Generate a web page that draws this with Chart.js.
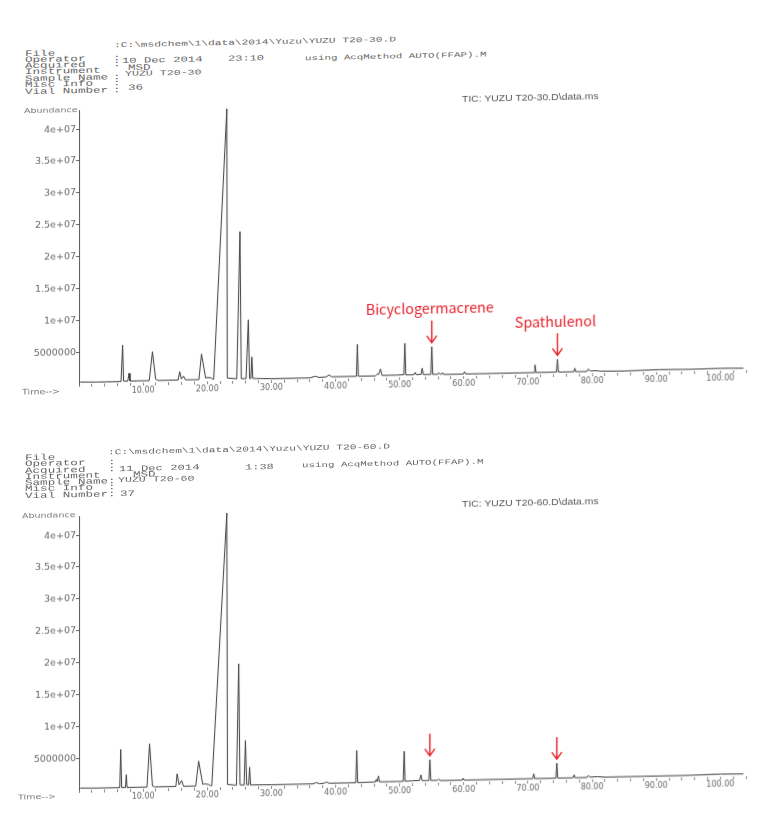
<!DOCTYPE html>
<html>
<head>
<meta charset="utf-8">
<script src="https://cdn.jsdelivr.net/npm/chart.js@4.4.1/dist/chart.umd.min.js"></script>
<style>
  body { margin: 0; background: #fff; width: 762px; height: 830px; overflow: hidden; position: relative; }
  .panel { position: absolute; left: 0; top: 0; width: 762px; height: 830px; transform: skewY(-1.2deg); transform-origin: 80px 0; }
  .hd { position: absolute; font: 12.6px "Liberation Mono", monospace; line-height: 12px; color: #666; white-space: pre; transform: scaleY(0.65); transform-origin: left center; }
  .lbl { position: absolute; font: 9.5px "DejaVu Sans", sans-serif; line-height: 12px; color: #777; white-space: pre; transform: scaleY(0.8); transform-origin: left center; }
  .tic { position: absolute; font: 10.4px "Liberation Sans", sans-serif; line-height: 12px; color: #555; white-space: pre; transform: scaleY(0.8); transform-origin: left center; }
  canvas { position: absolute; left: 0; }
</style>
</head>
<body>
<div class="panel" id="panelTop"><canvas id="chartTop" width="762" height="302" style="top:100px"></canvas></div>
<div class="panel" id="panelBottom"><canvas id="chartBottom" width="762" height="302" style="top:506px"></canvas></div>
<script>
// retention time (min) and abundance of the trace vertices, YUZU T20-30
const topTime = [
  0.2, 3.0, 6.55, 6.8, 6.95, 7.6, 7.8, 7.95,
  10.95, 11.45, 11.95, 12.3,
  15.45, 15.7, 15.95, 16.3, 16.6,
  18.7, 19.1, 19.75, 19.95, 20.6, 20.8,
  21.0, 23.05, 23.12,
  24.6, 25.1, 25.3, 26.05, 26.4, 26.6, 26.8, 26.95, 27.1,
  30.0, 36.0, 36.9, 37.3, 38.5, 39.0, 39.4,
  43.25, 43.4, 43.55, 46.2, 46.5, 46.7, 47.0, 47.25,
  49.5, 50.65, 50.8, 50.95, 52.2, 52.4, 52.6,
  53.35, 53.5, 53.7, 54.85, 55.0, 55.15,
  55.95, 56.1, 56.3, 56.55, 56.7, 56.85,
  59.95, 60.1, 60.3,
  70.95, 71.1, 71.25, 74.45, 74.6, 74.75,
  77.15, 77.3, 77.45, 79.2, 79.4, 79.7, 80.6, 81.2,
  85.0, 90.5, 95.0, 100.0, 103.6
];
const topAbund = [
  0.3e6, 0.25e6, 0.25e6, 5.97e6, 0.3e6, 0.3e6, 1.52e6, 0.3e6,
  0.3e6, 4.83e6, 0.5e6, 0.3e6,
  0.3e6, 1.6e6, 0.45e6, 0.9e6, 0.3e6,
  0.3e6, 4.31e6, 0.5e6, 0.6e6, 0.55e6, 0.3e6,
  0.3e6, 4.27e7, 0.45e6,
  0.3e6, 2.34e7, 0.3e6, 0.3e6, 9.5e6, 0.3e6, 0.3e6, 3.67e6, 0.3e6,
  0.2e6, 0.2e6, 0.45e6, 0.25e6, 0.3e6, 0.6e6, 0.3e6,
  0.3e6, 5.3e6, 0.3e6, 0.3e6, 0.6e6, 0.5e6, 1.36e6, 0.35e6,
  0.35e6, 0.4e6, 5.3e6, 0.35e6, 0.35e6, 0.7e6, 0.35e6,
  0.4e6, 1.35e6, 0.35e6, 0.35e6, 4.7e6, 0.35e6,
  0.35e6, 0.6e6, 0.35e6, 0.35e6, 0.6e6, 0.3e6,
  0.3e6, 0.67e6, 0.3e6,
  0.3e6, 1.49e6, 0.3e6, 0.3e6, 2.3e6, 0.3e6,
  0.3e6, 0.85e6, 0.3e6, 0.3e6, 0.69e6, 0.35e6, 0.4e6, 0.3e6,
  0.25e6, 0.35e6, 0.3e6, 0.35e6, 0.3e6
];

// YUZU T20-60
const bottomTime = [
  0.2, 3.0, 6.35, 6.5, 6.65, 7.25, 7.37, 7.5,
  10.6, 11.0, 11.45, 11.8,
  15.1, 15.3, 15.6, 16.0, 16.3,
  18.2, 18.65, 19.3, 19.6, 20.2, 20.5,
  20.7, 23.05, 23.15,
  24.55, 24.9, 25.1, 25.75, 25.95, 26.15, 26.45, 26.6, 26.75,
  30.0, 36.5, 37.0, 37.5, 38.3, 38.6, 39.0,
  43.15, 43.3, 43.45, 46.2, 46.35, 46.5, 46.7, 46.85,
  49.5, 50.55, 50.7, 50.85, 52.0, 53.1, 53.3, 53.5,
  54.55, 54.7, 54.85, 55.9, 56.1, 56.3,
  59.75, 59.9, 60.05,
  70.75, 70.9, 71.05, 74.35, 74.5, 74.65,
  77.05, 77.2, 77.35, 79.2, 79.4, 79.7, 80.8, 82.0,
  88.0, 95.0, 100.0, 103.6
];
const bottomAbund = [
  0.3e6, 0.25e6, 0.25e6, 6.24e6, 0.25e6, 0.25e6, 2.25e6, 0.25e6,
  0.25e6, 7.04e6, 0.4e6, 0.25e6,
  0.25e6, 2.23e6, 0.5e6, 1.16e6, 0.25e6,
  0.25e6, 4.15e6, 0.5e6, 0.55e6, 0.45e6, 0.25e6,
  0.25e6, 4.3e7, 0.4e6,
  0.25e6, 1.93e7, 0.3e6, 0.25e6, 7.25e6, 0.3e6, 0.25e6, 3.03e6, 0.25e6,
  0.2e6, 0.2e6, 0.4e6, 0.2e6, 0.3e6, 0.45e6, 0.25e6,
  0.25e6, 5.3e6, 0.25e6, 0.3e6, 0.7e6, 0.35e6, 1.25e6, 0.3e6,
  0.3e6, 0.3e6, 5.03e6, 0.3e6, 0.35e6, 0.4e6, 1.27e6, 0.35e6,
  0.35e6, 3.6e6, 0.35e6, 0.35e6, 0.55e6, 0.3e6,
  0.3e6, 0.6e6, 0.3e6,
  0.3e6, 1.07e6, 0.3e6, 0.3e6, 2.66e6, 0.3e6,
  0.3e6, 0.77e6, 0.3e6, 0.3e6, 0.61e6, 0.35e6, 0.4e6, 0.3e6,
  0.3e6, 0.3e6, 0.4e6, 0.35e6
];

// marked peaks (red arrows)
const topMarkNames = ["Bicyclogermacrene", "Spathulenol"];
const topMarkTimes = [55.0, 74.6];
const topMarkAbund = [4.7e6, 2.3e6];
const bottomMarkNames = ["", ""];
const bottomMarkTimes = [54.7, 74.5];
const bottomMarkAbund = [3.6e6, 2.66e6];

const yTickValues = [5e6, 1e7, 1.5e7, 2e7, 2.5e7, 3e7, 3.5e7, 4e7];
const yMax = 4.3e7;
const xTickStep = 2;
const xLabelEvery = 10;
const xMax = 104;

function addText(panel, cls, str, x, y, size) {
  const d = document.createElement("div");
  d.className = cls;
  d.textContent = str;
  d.style.left = x + "px";
  d.style.top = (y - 6) + "px";
  if (size) d.style.fontSize = size + "px";
  panel.appendChild(d);
}

const $top = document.getElementById("panelTop");
[
  [":C:\\msdchem\\1\\data\\2014\\Yuzu\\YUZU T20-30.D", 114, 45.5, 11.2],
  ["File", 25, 52.5], ["Operator", 25, 58.5], ["Acquired", 25, 64.5],
  ["Instrument", 25, 71], ["Sample Name", 25, 77.5], ["Misc Info", 25, 84],
  ["Vial Number", 25, 90.5],
  [":", 113, 58.5], [":", 113, 64.5], [":", 113, 77.5], [":", 113, 84], [":", 113, 90.5],
  ["10 Dec 2014", 122, 61.5, 12.2], ["23:10", 228, 62, 12], ["using AcqMethod AUTO(FFAP).M", 305, 62.5, 10.8],
  ["MSD", 128, 69], ["YUZU T20-30", 125, 75, 11.6], ["36", 128, 89]
].forEach(h => addText($top, "hd", h[0], h[1], h[2], h[3]));
addText($top, "tic", "TIC: YUZU T20-30.D\\data.ms", 462, 108);
addText($top, "lbl", "Abundance", 24, 110);
addText($top, "lbl", "Time-->", 22, 391);

const $bottom = document.getElementById("panelBottom");
[
  [":C:\\msdchem\\1\\data\\2014\\Yuzu\\YUZU T20-60.D", 108, 452.5, 11.2],
  ["File", 25, 457], ["Operator", 25, 463], ["Acquired", 25, 469.5],
  ["Instrument", 25, 476], ["Sample Name", 25, 482], ["Misc Info", 25, 488],
  ["Vial Number", 25, 494.5],
  [":", 108, 463], [":", 108, 469.5], [":", 108, 482], [":", 108, 488], [":", 108, 494.5],
  ["11 Dec 2014", 119, 470, 12.2], ["1:38", 245, 470.5, 12], ["using AcqMethod AUTO(FFAP).M", 302, 470, 10.8],
  ["MSD", 133, 476], ["YUZU T20-60", 118, 481, 11.6], ["37", 120, 494.5]
].forEach(h => addText($bottom, "hd", h[0], h[1], h[2], h[3]));
addText($bottom, "tic", "TIC: YUZU T20-60.D\\data.ms", 462, 513);
addText($bottom, "lbl", "Abundance", 22, 515);
addText($bottom, "lbl", "Time-->", 18, 796);

const peakMarks = {
  id: "peakMarks",
  afterDatasetsDraw(chart, args, opts) {
    const { ctx, scales: { x, y } } = chart;
    ctx.save();
    ctx.strokeStyle = "#e61e28";
    ctx.fillStyle = "#e61e28";
    ctx.lineWidth = 1.4;
    opts.times.forEach((t, i) => {
      const px = x.getPixelForValue(t);
      const tip = y.getPixelForValue(opts.abund[i]) - 4;
      const tail = tip - 22;
      ctx.beginPath();
      ctx.moveTo(px, tail);
      ctx.lineTo(px, tip);
      ctx.moveTo(px - 5, tip - 7);
      ctx.lineTo(px, tip);
      ctx.lineTo(px + 5, tip - 7);
      ctx.stroke();
      if (opts.names[i]) {
        ctx.font = '14.3px "Noto Sans CJK KR"';
        ctx.textAlign = "center";
        ctx.textBaseline = "middle";
        ctx.fillText(opts.names[i], px - 2, tail - 12);
      }
    });
    ctx.restore();
  }
};

function yLabel(v) {
  if (v < 1e7) return String(v);
  return v.toExponential().replace("e+", "e+0");
}

function renderChromatogram(id, times, abund, names, markTimes, markAbund) {
  const config = {
    type: "line",
    data: {
      datasets: [{
        data: times.map((t, i) => ({ x: t, y: abund[i] })),
        borderColor: "#3c3c3c",
        borderWidth: 1,
        pointRadius: 0,
        tension: 0,
        clip: false
      }]
    },
    options: {
      responsive: false,
      animation: false,
      layout: { padding: { top: 10, right: 16, left: 0, bottom: 0 } },
      scales: {
        x: {
          type: "linear",
          min: 0,
          max: xMax,
          afterFit: (s) => { s.height = 18; },
          border: { display: false },
          grid: { drawOnChartArea: false, tickLength: 3, color: "#888" },
          ticks: {
            stepSize: xTickStep,
            autoSkip: false,
            maxRotation: 0,
            padding: 0,
            color: "#666",
            font: { family: "DejaVu Sans", size: 8 },
            callback: (v) => (v > 0 && v % xLabelEvery === 0 ? v.toFixed(2) : "")
          }
        },
        y: {
          min: 0,
          max: yMax,
          afterFit: (s) => { s.width = 79; },
          afterBuildTicks: (s) => { s.ticks = yTickValues.map(v => ({ value: v })); },
          border: { display: true, color: "#555", width: 1 },
          grid: { drawOnChartArea: false, tickLength: 3, color: "#666" },
          ticks: {
            padding: 0,
            color: "#666",
            font: { family: "DejaVu Sans", size: 9.5 },
            callback: yLabel
          }
        }
      },
      plugins: {
        legend: { display: false },
        tooltip: { enabled: false },
        peakMarks: { names: names, times: markTimes, abund: markAbund }
      }
    },
    plugins: [peakMarks]
  };
  return new Chart(document.getElementById(id), config);
}

renderChromatogram("chartTop", topTime, topAbund, topMarkNames, topMarkTimes, topMarkAbund);
renderChromatogram("chartBottom", bottomTime, bottomAbund, bottomMarkNames, bottomMarkTimes, bottomMarkAbund);
</script>
</body>
</html>
